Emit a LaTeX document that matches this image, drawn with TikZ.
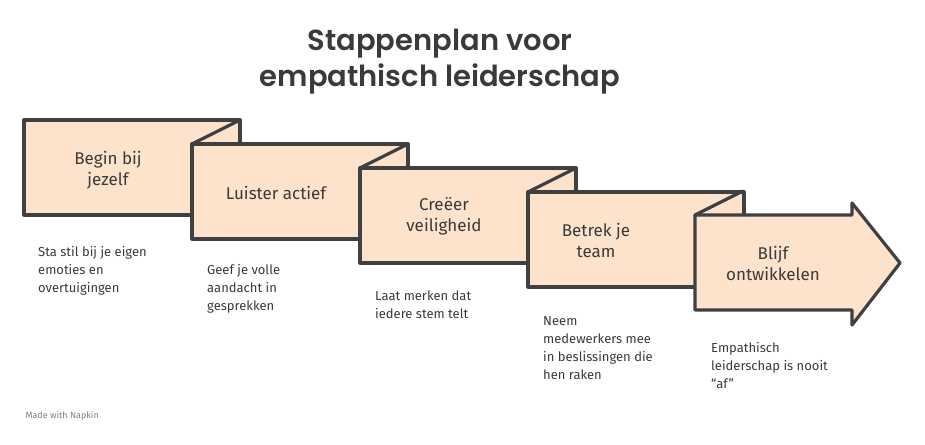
\documentclass[tikz,border=0pt]{standalone}
\usepackage{fontspec}
\setmainfont{Fira Sans}
\newfontfamily\titlefont{Poppins SemiBold}
\definecolor{stepfill}{HTML}{FDE3CC}
\definecolor{stepline}{HTML}{404040}
\definecolor{steptext}{HTML}{3A3A3A}
\tikzset{
	stepbox/.style={fill=stepfill, draw=stepline, line width=3.2pt, line join=round},
	steplabel/.style={align=center, text=steptext, font=\fontsize{17}{21}\selectfont},
	stepnote/.style={align=left, anchor=north west, text=steptext, font=\fontsize{13}{18}\selectfont, inner sep=0pt},
}
\begin{document}
\begin{tikzpicture}[x=1pt, y=-1pt]
	\useasboundingbox (0,0) rectangle (925,444);

	\node[font=\titlefont\fontsize{29}{36}\selectfont, text=steptext, align=center] (title) at (440,62) {Stappenplan voor\\empathisch leiderschap};

	% folded boxes
	\foreach \i in {0,1,2,3} {
		\pgfmathsetmacro{\bx}{24+168*\i}
		\pgfmathsetmacro{\by}{120+24*\i}
		\draw[stepbox] (\bx,\by) rectangle (\bx+216,\by+95);
		\ifnum\i>0
			\draw[stepline, line width=3.2pt, line cap=round] (\bx,\by) -- (\bx+48,\by-24);
		\fi
	}
	% last step: arrow
	\draw[stepbox] (695,215) -- (852,215) -- (852,203) -- (900,263) -- (852,325) -- (852,310) -- (695,310) -- cycle;
	\draw[stepline, line width=3.2pt, line cap=round] (695,215) -- (743,191);

	\node[steplabel] (begin) at (108,170) {Begin bij\\jezelf};
	\node[steplabel] (luister) at (276,193) {Luister actief};
	\node[steplabel] (veilig) at (444,216) {Creëer\\veiligheid};
	\node[steplabel] (team) at (596,240) {Betrek je\\team};
	\node[steplabel] (ontwikkel) at (773,263) {Blijf\\ontwikkelen};

	\node[stepnote] (noteA) at (38,246) {Sta stil bij je eigen\\emoties en\\overtuigingen};
	\node[stepnote] (noteB) at (207,264) {Geef je volle\\aandacht in\\gesprekken};
	\node[stepnote] (noteC) at (375,291) {Laat merken dat\\iedere stem telt};
	\node[stepnote] (noteD) at (543,316) {Neem\\medewerkers mee\\in beslissingen die\\hen raken};
	\node[stepnote] (noteE) at (711,342) {Empathisch\\leiderschap is nooit\\``af''};

	\node[anchor=west, text=gray, font=\fontsize{9}{11}\selectfont] (napkin) at (22,416) {Made with Napkin};
\end{tikzpicture}
\end{document}
